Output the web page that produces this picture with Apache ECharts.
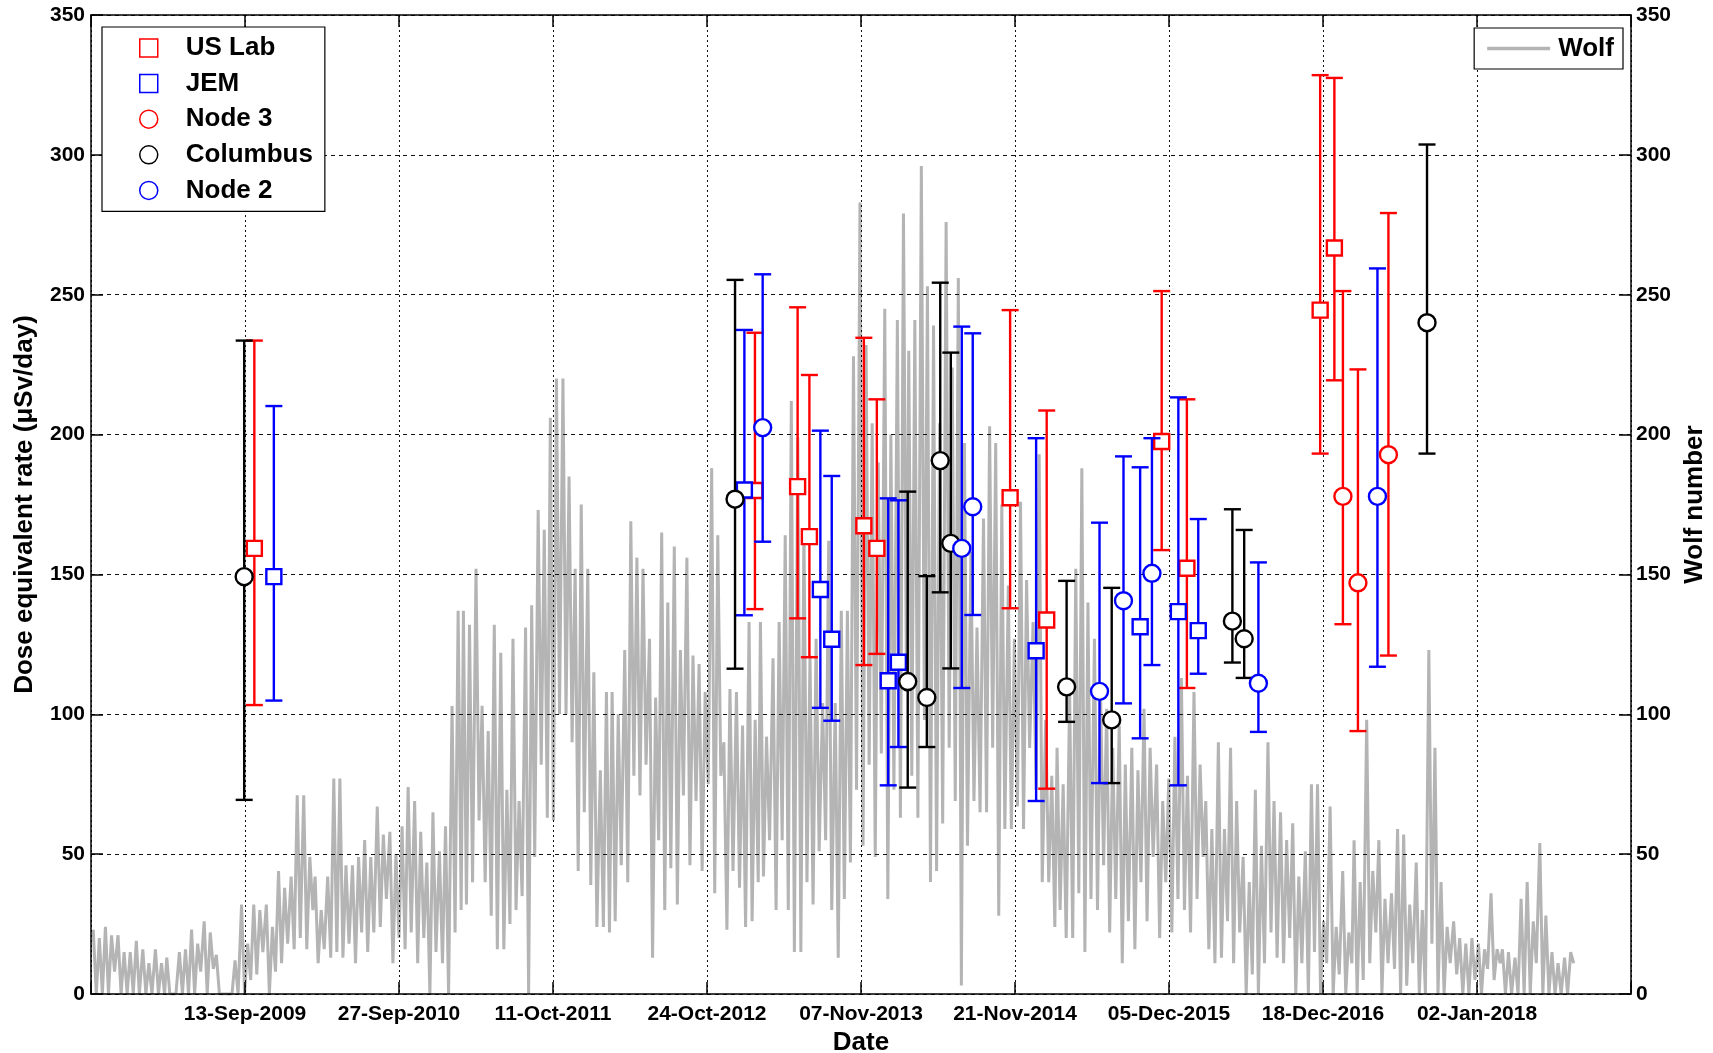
<!DOCTYPE html>
<html>
<head>
<meta charset="utf-8">
<title>Dose equivalent rate and Wolf number</title>
<script src="https://cdn.jsdelivr.net/npm/echarts@6/dist/echarts.min.js"></script>
<style>
  html, body { margin: 0; padding: 0; background: #fff; }
  #chart { width: 1713px; height: 1053px; }
</style>
</head>
<body>
<div id="chart"></div>
<script>
// ---- date axis: day 0 is 30-Aug-2008, one tick every 379 days ----
const EPOCH = Date.UTC(2008, 7, 30);
const DAY = 86400000;
const TICK_STEP = 379;
const X_MAX = 3790;
const tickLabels = ['', '13-Sep-2009', '27-Sep-2010', '11-Oct-2011', '24-Oct-2012',
  '07-Nov-2013', '21-Nov-2014', '05-Dec-2015', '18-Dec-2016', '02-Jan-2018', ''];

// ---- dose equivalent rate per module (µSv/day): value, lower and upper error ----
const usLabDates = ['2009-10-06', '2013-02-19', '2013-06-04', '2013-07-03', '2013-11-14', '2013-12-16',
  '2014-11-09', '2015-02-07', '2015-11-17', '2016-01-18', '2016-12-11', '2017-01-15'];
const usLabDose = [159.3, 180, 181.4, 163.5, 167.4, 159.3, 177.4, 133.7, 197.5, 152.2, 244.5, 266.7];
const usLabLow  = [103.3, 137.6, 134.3, 120.4, 117.6, 121.6, 137.9, 73.4, 158.7, 109.4, 193.2, 219.4];
const usLabHigh = [233.6, 236.4, 245.5, 221.3, 234.6, 212.6, 244.5, 208.6, 251.3, 212.6, 328.5, 327.5];

const jemDates = ['2009-11-23', '2013-01-24', '2013-07-30', '2013-08-27', '2014-01-13', '2014-02-07',
  '2015-01-12', '2015-09-25', '2015-12-28', '2016-02-15'];
const jemDose = [149.2, 180.2, 144.6, 126.8, 112, 118.6, 122.7, 131.3, 136.7, 129.9];
const jemLow  = [104.9, 135.4, 102.3, 97.7, 74.6, 88.3, 69, 91.4, 74.6, 114.5];
const jemHigh = [210.2, 237.4, 201.4, 185.2, 177.2, 176.5, 198.7, 188.3, 213.3, 169.8];

const node3Dates = ['2017-02-05', '2017-03-14', '2017-05-28'];
const node3Dose = [177.9, 147, 192.8];
const node3Low  = [132.2, 94, 121];
const node3High = [251.3, 223.3, 279.2];

const columbusDates = ['2009-09-11', '2013-01-01', '2014-03-02', '2014-04-18', '2014-05-21', '2014-06-16',
  '2015-03-28', '2015-07-17', '2016-05-09', '2016-06-07', '2017-08-31'];
const columbusDose = [149.2, 176.9, 111.7, 106, 190.7, 161.1, 109.8, 98, 133.3, 127, 240];
const columbusLow  = [69.4, 116.3, 73.8, 88.3, 143.6, 116.4, 97.3, 75.4, 118.5, 113, 193.2];
const columbusHigh = [233.6, 255.3, 179.6, 149.4, 254.3, 229.3, 147.7, 145.2, 173.3, 165.9, 303.7];

const node2Dates = ['2013-03-10', '2014-07-13', '2014-08-09', '2015-06-17', '2015-08-15', '2015-10-24',
  '2016-07-12', '2017-05-01'];
const node2Dose = [202.5, 159.3, 174.2, 108.2, 140.6, 150.4, 111.1, 177.9];
const node2Low  = [161.7, 109.4, 135.5, 75.4, 103.9, 117.6, 93.7, 117];
const node2High = [257.3, 238.6, 236.2, 168.5, 192.2, 198.7, 154.3, 259.4];

// ---- daily Wolf number, highest and lowest value in each half month from Sep 2008 ----
const wolfStartYear = 2008, wolfStartMonth = 8;
const wolfHigh = [
  23, 20, 24, 21, 21, 15, 15, 19,                                                   // 2008 Sep-Dec
  16, 11, 16, 11, 13, 0, 15, 16, 23, 18, 26, 22, 14, 0, 0, 12, 32, 18, 32, 30, 32, 24, 44, 38,          // 2009
  42, 71, 71, 49, 42, 30, 42, 77, 77, 46, 46, 49, 55, 49, 67, 57, 58, 50, 60, 74, 69, 58, 47, 65,       // 2010
  51, 60, 103, 137, 137, 132, 152, 103, 94, 132, 122, 73, 127, 69, 131, 139, 173, 166, 206, 220, 220, 185, 152, 175, // 2011
  152, 115, 80, 108, 108, 100, 123, 169, 156, 152, 127, 106, 165, 140, 160, 123, 156, 121, 118, 108, 188, 164, 90, 109, // 2012
  108, 96, 133, 98, 133, 92, 120, 133, 164, 212, 199, 166, 121, 127, 104, 162, 104, 137, 137, 228, 283, 232, 204, 190, // 2013
  245, 200, 241, 279, 230, 241, 296, 253, 239, 204, 276, 224, 256, 197, 158, 131, 170, 203, 197, 175, 146, 127, 176, 148, // 2014
  133, 193, 98, 78, 88, 75, 108, 152, 188, 140, 127, 108, 102, 88, 96, 82, 88, 80, 102, 88, 82, 69, 77, 92, // 2015
  113, 78, 108, 82, 69, 59, 90, 59, 88, 69, 49, 40, 73, 53, 90, 69, 65, 55, 61, 42, 51, 75, 75, 26,       // 2016
  67, 24, 44, 22, 55, 40, 98, 44, 55, 34, 36, 59, 57, 32, 47, 30, 123, 88, 40, 24, 26, 20, 18, 20,        // 2017
  18, 16, 36, 16, 16, 15, 13, 34, 40, 26, 54, 28, 15, 11, 13, 15                                          // 2018 Jan-Aug
];
const wolfLow = [
  0, 0, 0, 8, 0, 0, 0, 0,                                                           // 2008 Sep-Dec
  0, 0, 0, 0, 0, 0, 0, 0, 0, 8, 0, 9, 0, 0, 0, 0, 0, 5, 7, 15, 0, 8, 11, 18,                           // 2009
  16, 20, 16, 30, 11, 16, 13, 15, 13, 18, 11, 22, 15, 22, 24, 34, 11, 20, 16, 22, 11, 20, 0, 15,      // 2010
  11, 0, 22, 30, 32, 40, 62, 40, 28, 16, 16, 25, 30, 35, 0, 49, 82, 63, 62, 100, 100, 90, 44, 65,     // 2011
  39, 24, 24, 22, 26, 46, 40, 78, 71, 82, 13, 55, 30, 45, 32, 71, 46, 69, 44, 75, 36, 78, 23, 44,     // 2012
  38, 24, 26, 40, 42, 55, 30, 55, 30, 15, 15, 40, 32, 51, 55, 30, 13, 34, 47, 73, 53, 82, 49, 86,     // 2013
  34, 73, 63, 108, 78, 63, 98, 40, 44, 61, 88, 69, 3, 53, 69, 65, 65, 88, 28, 59, 59, 67, 59, 88,     // 2014
  73, 40, 40, 24, 30, 20, 20, 36, 15, 34, 30, 46, 22, 34, 11, 26, 16, 40, 26, 49, 20, 40, 22, 34,     // 2015
  30, 22, 34, 49, 16, 11, 13, 26, 11, 22, 0, 7, 0, 11, 22, 13, 11, 20, 0, 11, 0, 15, 0, 11,           // 2016
  0, 7, 0, 11, 0, 5, 11, 22, 0, 11, 9, 0, 3, 11, 0, 0, 18, 0, 0, 11, 7, 0, 0, 5,                      // 2017
  0, 9, 5, 11, 0, 0, 0, 0, 0, 11, 0, 0, 0, 0, 0, 11                                                   // 2018 Jan-Aug
];

const FONT = "'Liberation Sans', Arial, Helvetica, sans-serif";
const toDay = s => (Date.parse(s + 'T00:00:00Z') - EPOCH) / DAY;

// Wolf trace: each half month contributes its peak then its trough
const wolfPoints = [];
for (let i = 0; i < wolfHigh.length; i++) {
  const m = wolfStartMonth + Math.floor(i / 2);
  const start = (Date.UTC(wolfStartYear + Math.floor(m / 12), m % 12, i % 2 ? 16 : 1) - EPOCH) / DAY;
  wolfPoints.push([start + 3.5, wolfHigh[i]]);
  wolfPoints.push([start + 11, wolfLow[i]]);
}

// one series per module: vertical error bar with caps plus an open marker
function moduleSeries(name, color, shape, dates, dose, low, high) {
  return {
    type: 'custom',
    name: name,
    xAxisIndex: 0,
    yAxisIndex: 0,
    z: 3,
    silent: true,
    itemStyle: { color: color },
    encode: { x: 0, y: [1, 2, 3] },
    data: dates.map((d, i) => [toDay(d), dose[i], low[i], high[i]]),
    renderItem: function (params, api) {
      const x = api.value(0);
      const c = api.coord([x, api.value(1)]);
      const lo = api.coord([x, api.value(2)]);
      const hi = api.coord([x, api.value(3)]);
      const cap = 8.5;
      const bar = { stroke: color, lineWidth: 2.4, fill: null };
      const children = [
        { type: 'line', shape: { x1: lo[0], y1: lo[1], x2: hi[0], y2: hi[1] }, style: bar },
        { type: 'line', shape: { x1: lo[0] - cap, y1: lo[1], x2: lo[0] + cap, y2: lo[1] }, style: bar },
        { type: 'line', shape: { x1: hi[0] - cap, y1: hi[1], x2: hi[0] + cap, y2: hi[1] }, style: bar }
      ];
      const mark = { stroke: color, lineWidth: 2.4, fill: '#fff' };
      if (shape === 'square') {
        children.push({ type: 'rect', shape: { x: c[0] - 7.5, y: c[1] - 7.5, width: 15, height: 15 }, style: mark });
      } else {
        children.push({ type: 'circle', shape: { cx: c[0], cy: c[1], r: 8.5 }, style: mark });
      }
      return { type: 'group', children: children };
    }
  };
}

const tickFont = { fontFamily: FONT, fontSize: 21, fontWeight: 'bold', color: '#000' };
const nameFont = { fontFamily: FONT, fontSize: 26, fontWeight: 'bold', color: '#000' };
const frameLine = { show: true, onZero: false, lineStyle: { color: '#000', width: 1.5 } };
const innerTick = { show: true, inside: true, length: 12, lineStyle: { color: '#000', width: 1.5 } };

const legendItem = (name, icon, color) => ({
  name: name, icon: icon,
  itemStyle: { color: '#fff', borderColor: color, borderWidth: 1.5 }
});

const option = {
  backgroundColor: '#fff',
  animation: false,
  grid: { left: 91, right: 82, top: 15, bottom: 59, containLabel: false, outerBoundsMode: 'none' },
  legend: [
    {
      data: [
        legendItem('US Lab', 'rect', '#ff0000'),
        legendItem('JEM', 'rect', '#0000ff'),
        legendItem('Node 3', 'circle', '#ff0000'),
        legendItem('Columbus', 'circle', '#000000'),
        legendItem('Node 2', 'circle', '#0000ff')
      ],
      orient: 'vertical', left: 102, top: 27,
      padding: [8, 12, 8, 37], itemGap: 9.6, itemWidth: 18, itemHeight: 18,
      backgroundColor: '#fff', borderColor: '#000', borderWidth: 1.2, borderRadius: 0,
      selectedMode: false,
      textStyle: Object.assign({}, nameFont, { lineHeight: 26, padding: [0, 0, 0, 23] })
    },
    {
      data: [{ name: 'Wolf', icon: 'rect', itemStyle: { color: '#b4b4b4' } }],
      orient: 'vertical', right: 90, top: 28,
      padding: [7.5, 9, 7.5, 13], itemWidth: 63, itemHeight: 3.5,
      backgroundColor: '#fff', borderColor: '#000', borderWidth: 1.2, borderRadius: 0,
      selectedMode: false,
      textStyle: Object.assign({}, nameFont, { lineHeight: 26, padding: [0, 0, 0, 3] })
    }
  ],
  xAxis: [
    {
      type: 'value', position: 'bottom', min: 0, max: X_MAX, interval: TICK_STEP, z: 2,
      axisLine: frameLine, axisTick: innerTick,
      axisLabel: Object.assign({}, tickFont, {
        margin: 10,
        formatter: v => tickLabels[Math.round(v / TICK_STEP)] || ''
      }),
      splitLine: { show: true, lineStyle: { color: '#111', width: 1, type: [2, 3] } },
      name: 'Date', nameLocation: 'middle', nameGap: 35, nameTextStyle: nameFont
    },
    {
      type: 'value', position: 'top', min: 0, max: X_MAX, interval: TICK_STEP, z: 2,
      axisLine: frameLine, axisTick: innerTick,
      axisLabel: { show: false }, splitLine: { show: false }
    }
  ],
  yAxis: [
    {
      type: 'value', position: 'left', min: 0, max: 350, interval: 50, z: 2,
      axisLine: frameLine, axisTick: innerTick,
      axisLabel: Object.assign({}, tickFont, { margin: 6 }),
      splitLine: { show: true, lineStyle: { color: '#111', width: 1, type: [4, 4] } },
      name: 'Dose equivalent rate (\u03bcSv/day)', nameLocation: 'middle', nameGap: 53, nameRotate: 90,
      nameTextStyle: nameFont
    },
    {
      type: 'value', position: 'right', min: 0, max: 350, interval: 50, z: 2,
      axisLine: frameLine, axisTick: innerTick,
      axisLabel: Object.assign({}, tickFont, { margin: 5 }),
      splitLine: { show: false },
      name: 'Wolf number', nameLocation: 'middle', nameGap: 41, nameRotate: 90,
      nameTextStyle: nameFont
    }
  ],
  series: [
    {
      type: 'line', name: 'Wolf', xAxisIndex: 0, yAxisIndex: 1, z: 1,
      data: wolfPoints, symbol: 'none', showSymbol: false, silent: true,
      lineStyle: { color: '#b4b4b4', width: 3 }, itemStyle: { color: '#b4b4b4' }
    },
    moduleSeries('US Lab', '#ff0000', 'square', usLabDates, usLabDose, usLabLow, usLabHigh),
    moduleSeries('JEM', '#0000ff', 'square', jemDates, jemDose, jemLow, jemHigh),
    moduleSeries('Node 3', '#ff0000', 'circle', node3Dates, node3Dose, node3Low, node3High),
    moduleSeries('Columbus', '#000000', 'circle', columbusDates, columbusDose, columbusLow, columbusHigh),
    moduleSeries('Node 2', '#0000ff', 'circle', node2Dates, node2Dose, node2Low, node2High)
  ]
};

const chart = echarts.init(document.getElementById('chart'), null, { renderer: 'canvas' });
chart.setOption(option);
</script>
</body>
</html>
